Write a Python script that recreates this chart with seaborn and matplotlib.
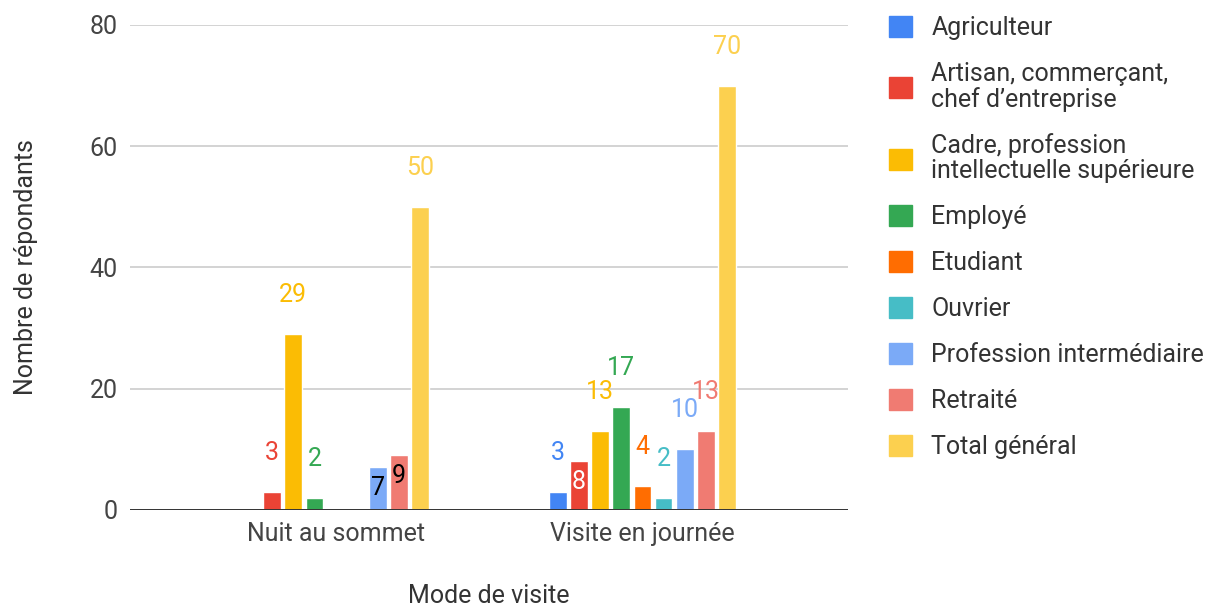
import numpy as np
import pandas as pd
import matplotlib
matplotlib.use("Agg")
import matplotlib.pyplot as plt
import seaborn as sns

modes = ["Nuit au sommet", "Visite en journée"]
categories = [
    "Agriculteur",
    "Artisan, commerçant,\nchef d’entreprise",
    "Cadre, profession\nintellectuelle supérieure",
    "Employé",
    "Etudiant",
    "Ouvrier",
    "Profession intermédiaire",
    "Retraité",
    "Total général",
]
nuit = [np.nan, 3, 29, 2, np.nan, np.nan, 7, 9, 50]
journee = [3, 8, 13, 17, 4, 2, 10, 13, 70]
colors = ["#4285F4", "#EA4335", "#FBBC04", "#34A853", "#FF6D01",
          "#46BDC6", "#7BAAF7", "#F07B72", "#FCD04F"]
yticks = [0, 20, 40, 60, 80]

# labels that Sheets drew inside their bar: (mode, category index) -> text colour
inside = {(0, 6): "black", (0, 7): "black", (1, 1): "white"}

df = pd.DataFrame({
    "mode": [m for m in modes for _ in categories],
    "cat": categories * 2,
    "n": nuit + journee,
})

sns.set_style("white")
plt.rcParams["font.family"] = ["Roboto", "DejaVu Sans"]
fs = 18

fig = plt.figure(figsize=(12.15, 6.07), dpi=100)
ax = fig.add_axes([0.107, 0.160, 0.591, 0.799])

sns.barplot(data=df, x="mode", y="n", hue="cat", order=modes, hue_order=categories,
            palette=colors, width=0.62, gap=0.16, saturation=1, legend=False, ax=ax)

ax.set_xlim(-0.67, 1.67)
ax.set_ylim(0, 80)
ax.set_yticks(yticks)
ax.grid(axis="y", color="#d0d0d0", lw=1.3)
ax.set_axisbelow(True)
ax.axhline(0, color="#333333", lw=1.4, zorder=3)
for s in ax.spines.values():
    s.set_visible(False)
ax.tick_params(axis="both", length=0, labelsize=fs, colors="#444444")
ax.tick_params(axis="x", pad=9)
ax.tick_params(axis="y", pad=9)
ax.set_xlabel("Mode de visite", fontsize=fs, color="#333333", labelpad=27)
ax.set_ylabel("Nombre de répondants", fontsize=fs, color="#333333", labelpad=37)

for ci, cont in enumerate(ax.containers):
    for bar in cont:
        h = bar.get_height()
        if np.isnan(h) or h == 0:
            continue
        xc = bar.get_x() + bar.get_width() / 2
        mi = int(round(xc))
        if (mi, ci) in inside:
            ax.annotate(f"{h:.0f}", (xc, h), xytext=(0, -15), textcoords="offset points",
                        ha="center", va="center", fontsize=fs,
                        color=inside[(mi, ci)], zorder=5)
        else:
            ax.annotate(f"{h:.0f}", (xc, h), xytext=(0, 28), textcoords="offset points",
                        ha="center", va="center", fontsize=fs,
                        color=colors[ci], zorder=5)

handles = [plt.Rectangle((0, 0), 1, 1, color=c) for c in colors]
leg = fig.legend(handles, categories, loc="upper left", bbox_to_anchor=(0.732, 0.974),
                 frameon=False, fontsize=fs, handlelength=0.92, handleheight=0.92,
                 handletextpad=0.76, labelspacing=0.87, labelcolor="#333333",
                 borderpad=0, borderaxespad=0)
for t in leg.get_texts():
    t.set_linespacing(1.05)

fig.savefig("out.png", dpi=100)
